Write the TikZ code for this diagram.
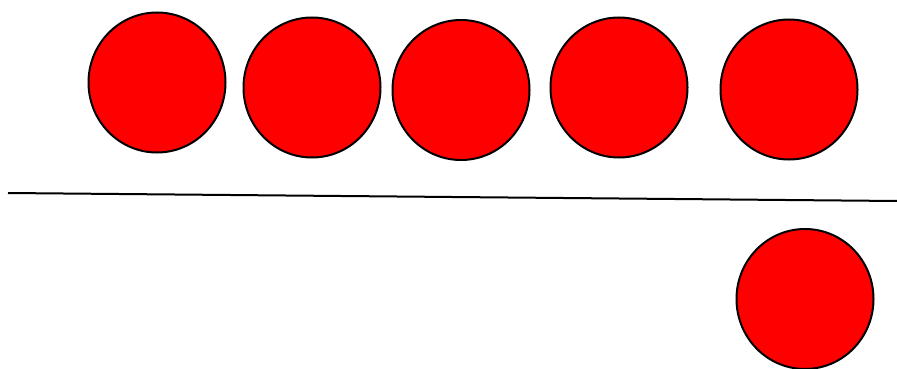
\documentclass[tikz,border=0pt]{standalone}
\usetikzlibrary{shapes.geometric}
\begin{document}
\begin{tikzpicture}[x=1pt,y=-1pt,
  ball/.style={ellipse,draw=black,line width=2pt,fill=red,minimum width=137pt,minimum height=140pt,inner sep=0pt}]
\useasboundingbox (0,0) rectangle (897,369);
\node[ball] (b1) at (157,82.5) {};
\node[ball] (b2) at (312,87.5) {};
\node[ball] (b3) at (461,90) {};
\node[ball] (b4) at (619,87.5) {};
\node[ball] (b5) at (789,89.5) {};
\node[ball] (b6) at (805,299) {};
\coordinate (l1) at (8,193);
\coordinate (l2) at (897,201);
\draw[line width=2pt] (l1) -- (l2);
\end{tikzpicture}
\end{document}
